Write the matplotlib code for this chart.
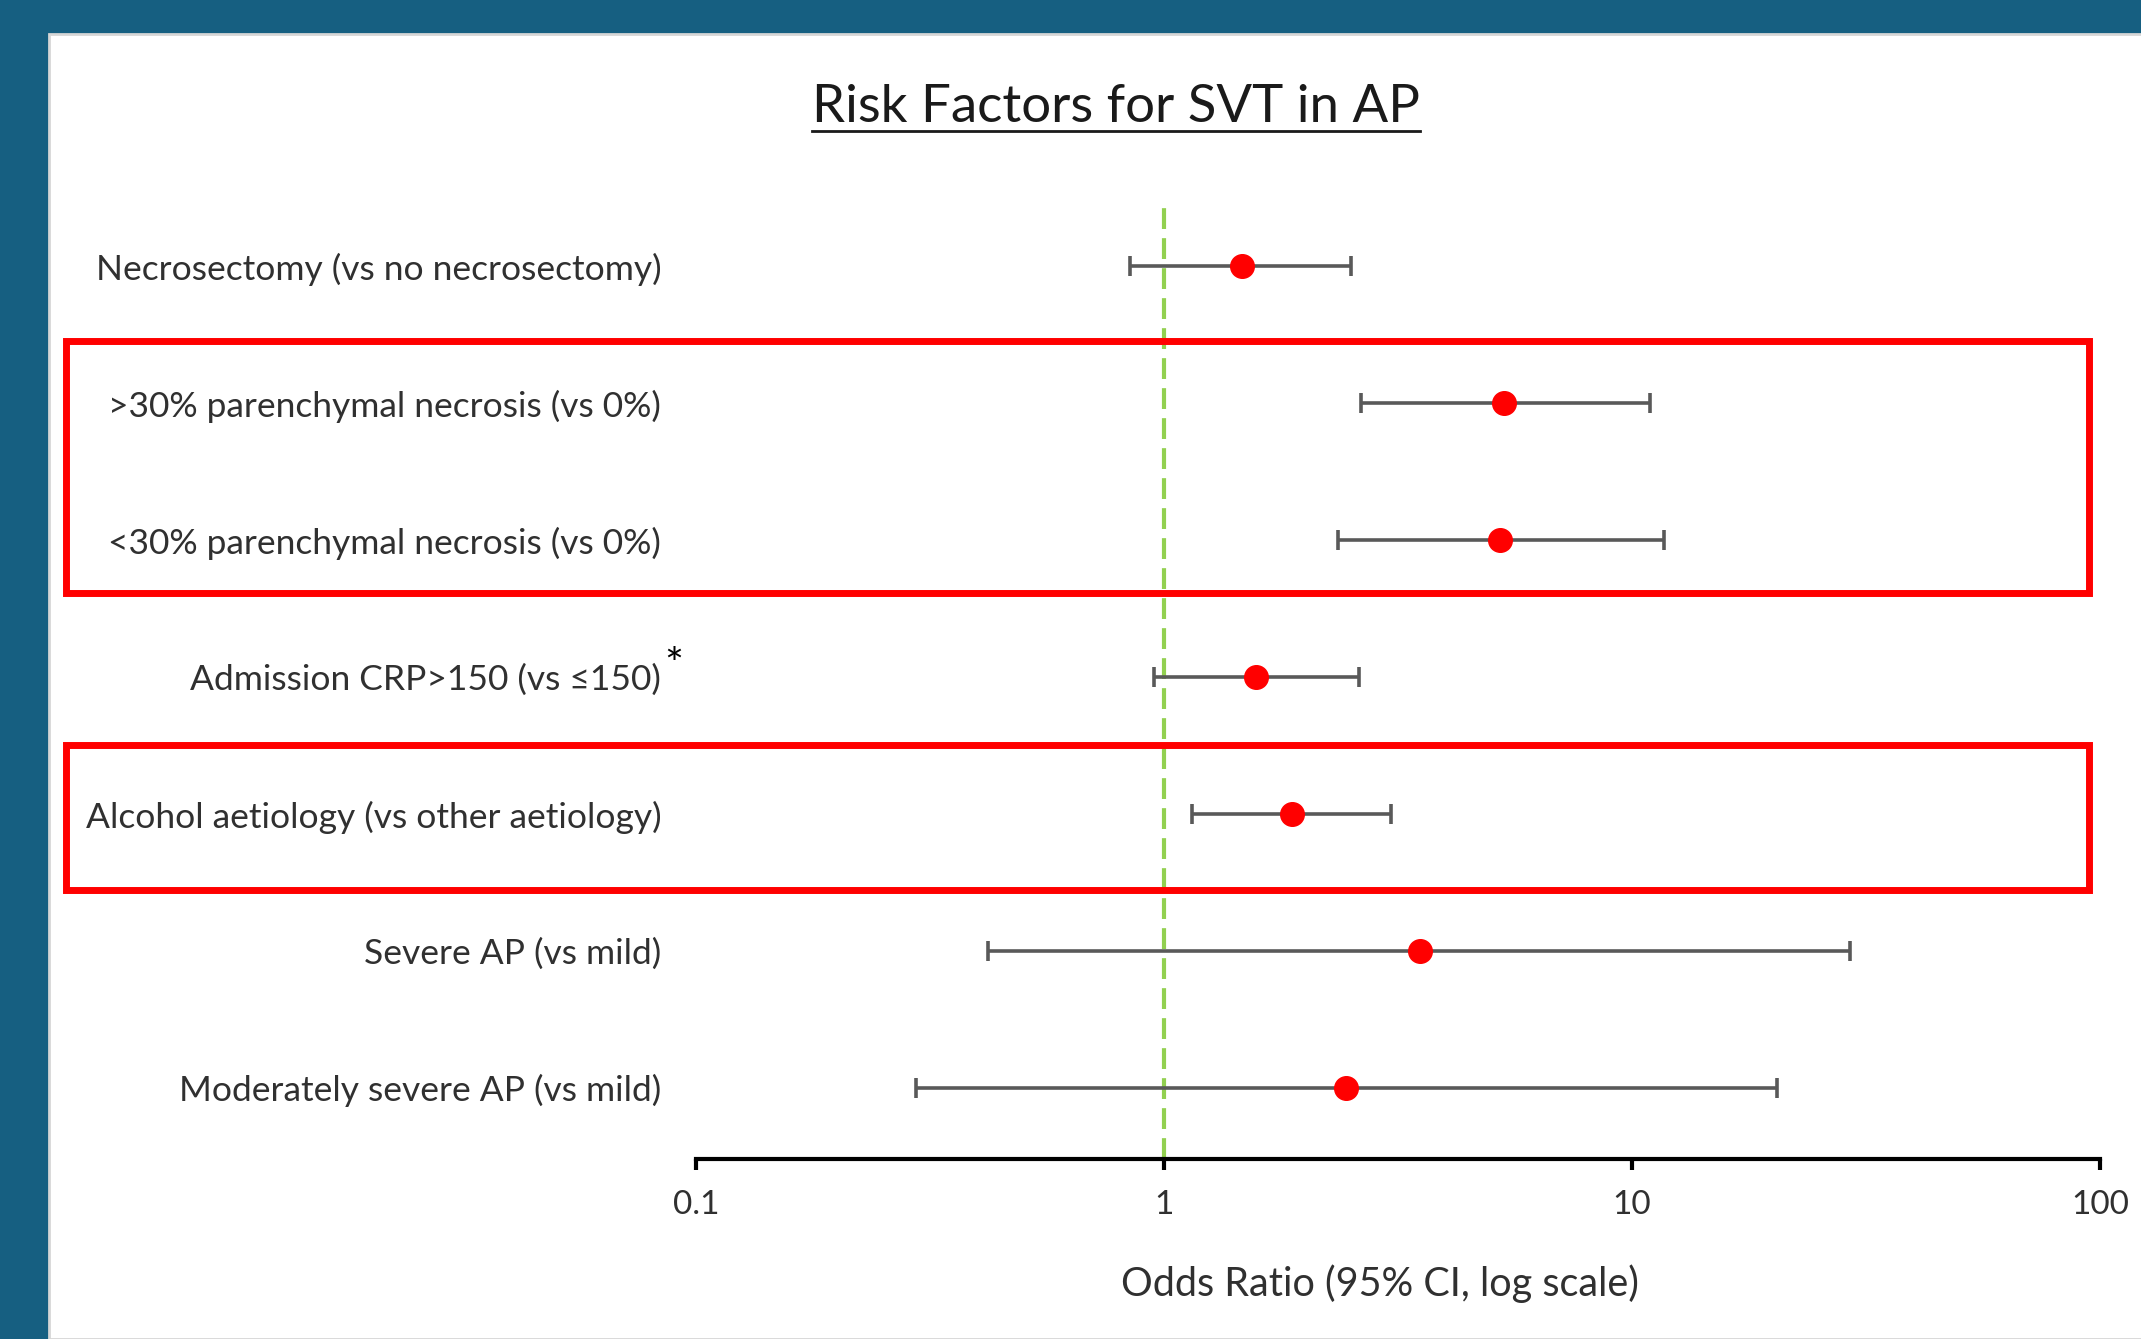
import numpy as np
import matplotlib.pyplot as plt
from matplotlib.patches import Rectangle
from matplotlib.lines import Line2D
from matplotlib.ticker import FixedLocator, FixedFormatter, NullLocator

plt.rcParams['font.family'] = ['Lato', 'DejaVu Sans']

# rows listed top to bottom
labels = [
    "Necrosectomy (vs no necrosectomy)",
    ">30% parenchymal necrosis (vs 0%)",
    "<30% parenchymal necrosis (vs 0%)",
    "Admission CRP>150 (vs \u2264150)",
    "Alcohol aetiology (vs other aetiology)",
    "Severe AP (vs mild)",
    "Moderately severe AP (vs mild)",
]
odds = np.array([1.47, 5.33, 5.22, 1.57, 1.88, 3.52, 2.45])
ci_low = np.array([0.846, 2.64, 2.35, 0.95, 1.15, 0.42, 0.295])
ci_high = np.array([2.51, 10.9, 11.7, 2.61, 3.05, 29.2, 20.4])
tick_vals = [0.1, 1, 10, 100]
tick_text = ["0.1", "1", "10", "100"]
starred_row = 3

W, H = 2141, 1339
TEXT = '#303030'


def fx(x):
    return x / W


def fy(y):
    # pixel from top -> figure fraction
    return 1 - y / H


fig = plt.figure(figsize=(W / 100, H / 100), dpi=100, facecolor='#165F81')

# white slide panel with thin grey edge
fig.patches.append(Rectangle((fx(49), 0), 1, fy(34), transform=fig.transFigure,
                             facecolor='white', edgecolor='#D6D6D6', lw=2, zorder=-2))

ax = fig.add_axes([fx(696), fy(1159), fx(2100 - 696), (1159 - 202) / H])
ax.set_facecolor('none')
ax.set_xscale('log')
ax.set_xlim(0.1, 100)
ax.set_ylim(-0.52, 6.47)

y = np.arange(len(labels))[::-1]
ax.errorbar(odds, y, xerr=[odds - ci_low, ci_high - odds], fmt='none',
            ecolor='#595959', elinewidth=2.6, capsize=7, capthick=2.6, zorder=2)
ax.plot(odds, y, 'o', color='#FF0000', markersize=17, zorder=3)
ax.axvline(1, color='#92D050', lw=3, ls=(0, (5, 2.2)), zorder=1)

for s in ['top', 'right', 'left']:
    ax.spines[s].set_visible(False)
ax.spines['bottom'].set_linewidth(3)

ax.set_yticks(y)
ax.set_yticklabels(labels, fontsize=25.5, color=TEXT)
ax.tick_params(axis='y', length=0, pad=25)

ax.xaxis.set_major_locator(FixedLocator(tick_vals))
ax.xaxis.set_major_formatter(FixedFormatter(tick_text))
ax.xaxis.set_minor_locator(NullLocator())
ax.tick_params(axis='x', length=8, width=3, labelsize=24, pad=14, labelcolor=TEXT)

fig.text(fx(1380), fy(1284), "Odds Ratio (95% CI, log scale)", fontsize=28.5,
         color=TEXT, ha='center', va='center')

# footnote mark on the CRP row
fig.canvas.draw()
renderer = fig.canvas.get_renderer()
bb = ax.get_yticklabels()[starred_row].get_window_extent(renderer)
fig.text(bb.x1 / W + fx(3), bb.y1 / H - 0.002, "*", fontsize=32, color='black',
         ha='left', va='center')

# title with underline
title = fig.text(fx(1116), fy(108), "Risk Factors for SVT in AP", fontsize=38,
                 color='#1A1A1A', ha='center', va='center')
tb = title.get_window_extent(renderer)
fig.lines.append(Line2D([tb.x0 / W, tb.x1 / W], [fy(131), fy(131)],
                        transform=fig.transFigure, color='#1A1A1A', lw=2))

# red highlight boxes
for top, bottom in [(341, 593), (745, 890)]:
    fig.patches.append(Rectangle((fx(66), fy(bottom)), fx(2089 - 66), (bottom - top) / H,
                                 transform=fig.transFigure, fill=False,
                                 edgecolor='#FF0000', lw=5, zorder=5))

fig.savefig('out.png', dpi=100, facecolor=fig.get_facecolor())
